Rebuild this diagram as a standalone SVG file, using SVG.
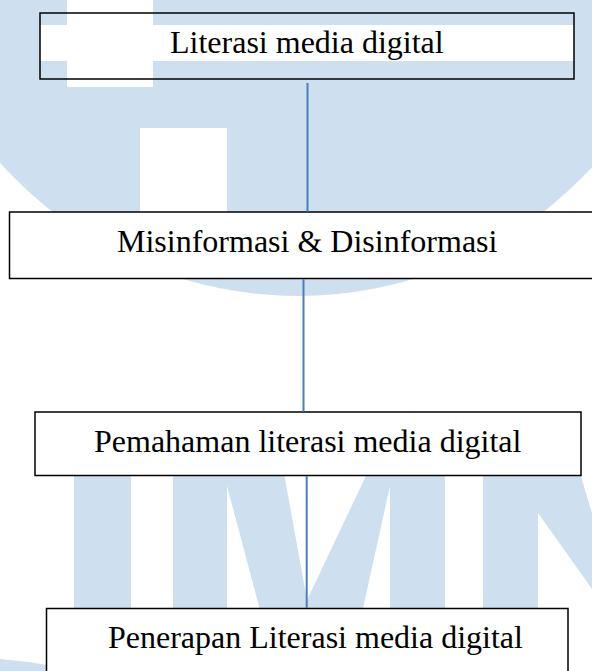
<svg xmlns="http://www.w3.org/2000/svg" width="592" height="671" viewBox="0 0 592 671">
<style>
.wm{fill:#cee0ef;stroke:none}
.gap{fill:#ffffff;stroke:none}
.box{fill:#ffffff;stroke:#000000;stroke-width:1.5}
.frame{fill:none;stroke:#000000;stroke-width:1.5}
.lbl{font-family:"Liberation Serif","Times New Roman",serif;font-size:32px;fill:#000000}
.conn{stroke:#4a7ebb;stroke-width:2;fill:none}
</style>
<rect x="0" y="0" width="592" height="671" fill="#ffffff"/>
<g id="watermark">
  <circle class="wm" cx="298" cy="-104" r="400"/>
  <rect class="gap" x="67" y="0" width="86" height="87"/>
  <rect class="gap" x="140" y="128" width="87" height="120"/>
  <rect class="wm" x="74" y="440" width="57" height="200"/>
  <path class="wm" d="M173,440 L278,440 L307,600 L383,440 L445,440 L445,640 L390,640 L390,486 L356,640 L268,640 L227,486 L227,640 L173,640 Z"/>
  <path class="wm" d="M483,440 L570,440 L592,513 L592,589 L538,513 L538,640 L483,640 Z"/>
  <path class="wm" d="M0,659 Q24,661 47,665 L47,671 L0,671 Z"/>
</g>
<g id="node1">
  <rect class="gap" x="40" y="25" width="534" height="36"/>
  <rect class="frame" x="40" y="13" width="534" height="66"/>
  <text class="lbl" x="170" y="53">Literasi media digital</text>
</g>
<g id="node2">
  <rect class="box" x="9.5" y="212" width="590" height="66.5"/>
  <text class="lbl" x="117" y="251.5">Misinformasi &amp; Disinformasi</text>
</g>
<g id="node3">
  <rect class="box" x="35" y="412" width="546" height="63.5"/>
  <text class="lbl" x="94" y="451.5">Pemahaman literasi media digital</text>
</g>
<g id="node4">
  <rect class="box" x="46.5" y="608.5" width="521.5" height="70"/>
  <text class="lbl" x="108" y="648">Penerapan Literasi media digital</text>
</g>
<g id="connectors">
  <line class="conn" x1="307.5" y1="83" x2="307.5" y2="211.5"/>
  <line class="conn" x1="303.5" y1="279" x2="303.5" y2="411.5"/>
  <line class="conn" x1="306.7" y1="476" x2="306.7" y2="608"/>
</g>
</svg>
